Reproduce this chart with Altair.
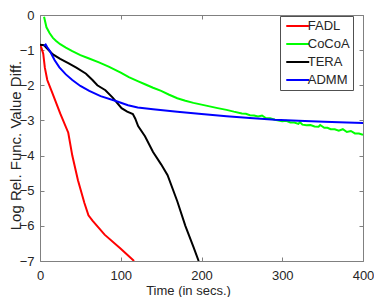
import altair as alt
import pandas as pd

methods = ["FADL", "CoCoA", "TERA", "ADMM"]
colors = ["#ff0000", "#00ff00", "#000000", "#0000ff"]

fadl_t = [0, 2, 4, 6, 9, 15, 25, 35, 40, 47, 55, 60, 65, 80, 100, 116.5]
fadl_v = [-0.85, -0.95, -1.1, -1.5, -1.85, -2.2, -2.8, -3.35, -4.0, -4.7, -5.35, -5.7, -5.85, -6.25, -6.65, -7.0]

cocoa_t = [5, 8, 12, 16, 20, 25, 32, 40, 50, 60, 73, 85, 100, 110, 121, 130, 140, 150, 160, 170,
           180, 190, 200, 210, 220, 231, 240, 250, 255, 260, 265, 270, 275, 280, 285, 291, 300, 305,
           310, 315, 320, 322, 325, 330, 335, 340, 345, 347, 352, 356, 360, 365, 370, 375, 380, 385,
           390, 395, 400]
cocoa_v = [-0.05, -0.35, -0.52, -0.65, -0.74, -0.83, -0.93, -1.03, -1.14, -1.23, -1.35, -1.47, -1.64,
           -1.77, -1.88, -1.97, -2.07, -2.16, -2.27, -2.37, -2.44, -2.50, -2.55, -2.60, -2.65, -2.70,
           -2.75, -2.80, -2.81, -2.85, -2.86, -2.89, -2.86, -2.94, -2.94, -2.98, -3.02, -3.01, -3.06,
           -3.06, -3.10, -3.05, -3.12, -3.14, -3.13, -3.17, -3.18, -3.13, -3.21, -3.21, -3.25, -3.25,
           -3.29, -3.25, -3.33, -3.30, -3.37, -3.37, -3.41]

tera_t = [0, 5, 10, 16, 25, 35, 45, 57, 65, 71, 81, 90, 101, 108, 115, 118, 121.5, 130, 140, 150,
          158, 170, 180, 190, 196.5]
tera_v = [-0.85, -0.86, -0.98, -1.12, -1.25, -1.37, -1.5, -1.67, -1.85, -2.0, -2.14, -2.35, -2.65,
          -2.75, -2.82, -2.95, -3.16, -3.45, -3.9, -4.25, -4.56, -5.3, -6.0, -6.6, -7.0]

admm_t = [5, 7, 9, 12, 18, 24, 32, 40, 50, 61, 75, 93, 109, 121, 140, 170, 200, 231, 260, 291, 320,
          352, 380, 400]
admm_v = [-0.88, -0.84, -0.92, -1.02, -1.28, -1.49, -1.69, -1.85, -2.02, -2.16, -2.31, -2.44, -2.57,
          -2.63, -2.68, -2.75, -2.82, -2.88, -2.93, -2.98, -3.01, -3.04, -3.06, -3.07]

x_ticks = [0, 100, 200, 300, 400]
y_ticks = [0, -1, -2, -3, -4, -5, -6, -7]

rows = []
for name, ts, vs in [("FADL", fadl_t, fadl_v), ("CoCoA", cocoa_t, cocoa_v),
                     ("TERA", tera_t, tera_v), ("ADMM", admm_t, admm_v)]:
    for i, (t, v) in enumerate(zip(ts, vs)):
        rows.append({"method": name, "time": t, "value": v, "idx": i})
df = pd.DataFrame(rows)

FONT = "Liberation Sans"
TXT = "#262626"
AX = "#808080"

xscale = alt.Scale(domain=[0, 400], nice=False)
yscale = alt.Scale(domain=[-7, 0], nice=False)

main = alt.Chart(df).mark_line(strokeWidth=2, clip=True).encode(
    x=alt.X("time:Q", scale=xscale,
            axis=alt.Axis(orient="bottom", values=x_ticks, offset=-4, tickSize=4, tickColor=AX,
                          domain=False, grid=False, labelFontSize=13, labelColor=TXT,
                          labelFlush=False, labelPadding=8, title="Time (in secs.)",
                          titleFontSize=13, titleFontWeight="normal", titleColor=TXT,
                          titleBaseline="top", titleX=148, titleY=27)),
    y=alt.Y("value:Q", scale=yscale,
            axis=alt.Axis(orient="left", values=y_ticks, offset=-4, tickSize=4, tickColor=AX,
                          domain=False, grid=False, labelFontSize=13, labelColor=TXT,
                          labelFlush=False, labelPadding=6, title="Log Rel. Func. Value Diff.",
                          titleFontSize=15, titleFontWeight="normal", titleColor=TXT,
                          titleAngle=270, titleBaseline="bottom", titleAlign="center",
                          titleX=-21, titleY=130)),
    color=alt.Color("method:N", scale=alt.Scale(domain=methods, range=colors), sort=methods,
                    legend=alt.Legend(title=None, orient="none", legendX=240, legendY=1,
                                      symbolType="M-2,0H2", symbolStrokeWidth=2, symbolSize=132,
                                      symbolOffset=7.75, labelOffset=3,
                                      labelFontSize=13, labelColor=TXT, fillColor="white",
                                      strokeColor="#505050", padding=3, rowPadding=4,
                                      cornerRadius=0)),
    order="idx:Q",
)

ghost = alt.Chart(df).mark_line(opacity=0).encode(
    x=alt.X("time:Q", scale=xscale,
            axis=alt.Axis(orient="top", values=x_ticks, offset=-4, tickSize=4, tickColor=AX,
                          domain=False, grid=False, labels=False, title=None)),
    y=alt.Y("value:Q", scale=yscale,
            axis=alt.Axis(orient="right", values=y_ticks, offset=-4, tickSize=4, tickColor=AX,
                          domain=False, grid=False, labels=False, title=None)),
    detail="method:N",
    order="idx:Q",
)

chart = alt.layer(main, ghost).resolve_scale(x="independent", y="independent").properties(
    width=323, height=246,
    autosize=alt.AutoSizeParams(type="none"),
    padding={"left": 32, "top": 7, "right": 11, "bottom": 36},
).configure(font=FONT).configure_view(stroke=AX, strokeWidth=1)

chart.save("out.html", embed_options={"renderer": "svg", "actions": False})
